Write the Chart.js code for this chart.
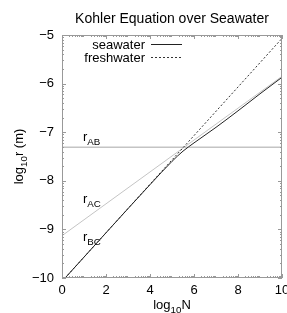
<!DOCTYPE html>
<html>
<head>
<meta charset="utf-8">
<script src="https://cdn.jsdelivr.net/npm/chart.js@4"></script>
<style>
  html, body { margin: 0; padding: 0; background: #fff; }
  #chart { display: block; }
</style>
</head>
<body>
<canvas id="chart" width="287" height="313"></canvas>
<script>
// values
const seaN = [0.14, 2, 4, 5, 5.5, 6, 6.5, 7, 8, 9, 10];
const seaR = [-10, -9.07, -8.08, -7.6, -7.39, -7.22, -7.06, -6.9, -6.56, -6.21, -5.87];
const freshN = [0.14, 10];
const freshR = [-10, -5.07];
const acN = [0, 10];
const acR = [-9.13, -5.85];
const abN = [0, 10];
const abR = [-7.31, -7.31];
const xTicks = [0, 2, 4, 6, 8, 10];
const yTicks = [-10, -9, -8, -7, -6, -5];

const FONT = '"Liberation Sans", Arial, sans-serif';
const TITLE = 'Kohler Equation over Seawater';

function pts(xs, ys) {
    return xs.map((x, i) => ({ x: x, y: ys[i] }));
}

// text pieces: [string, isSubscript]
function drawParts(ctx, parts, x, y, size, align) {
    let w = 0;
    parts.forEach(p => {
        ctx.font = (p[1] ? size * 0.75 : size) + 'px ' + FONT;
        w += ctx.measureText(p[0]).width;
    });
    let cx = align === 'center' ? x - w / 2 : x;
    parts.forEach(p => {
        ctx.font = (p[1] ? size * 0.75 : size) + 'px ' + FONT;
        ctx.fillText(p[0], cx, p[1] ? y + size * 0.3 : y);
        cx += ctx.measureText(p[0]).width;
    });
}

const lineLabels = [
    { parts: [['r'], ['AB', 1]], n: 0.95, r: -7.18 },
    { parts: [['r'], ['AC', 1]], n: 0.95, r: -8.46 },
    { parts: [['r'], ['BC', 1]], n: 0.95, r: -9.24 }
];

const decor = {
    id: 'decor',
    afterDraw(chart) {
        const ctx = chart.ctx;
        const a = chart.chartArea;
        const xs = chart.scales.x, ys = chart.scales.y;
        ctx.save();
        // frame
        ctx.strokeStyle = '#999';
        ctx.lineWidth = 1;
        ctx.strokeRect(a.left + 0.5, a.top + 0.5, a.right - a.left - 1, a.bottom - a.top - 1);
        // minor ticks (log-spaced inside each unit) on all four sides
        ctx.beginPath();
        for (let i = xs.min; i < xs.max; i++) {
            for (let k = 2; k <= 9; k++) {
                const px = Math.round(xs.getPixelForValue(i + Math.log10(k))) + 0.5;
                ctx.moveTo(px, a.bottom); ctx.lineTo(px, a.bottom - 2);
                ctx.moveTo(px, a.top); ctx.lineTo(px, a.top + 2);
            }
        }
        for (let i = ys.min; i < ys.max; i++) {
            for (let k = 2; k <= 9; k++) {
                const py = Math.round(ys.getPixelForValue(i + Math.log10(k))) + 0.5;
                ctx.moveTo(a.left, py); ctx.lineTo(a.left + 2, py);
                ctx.moveTo(a.right, py); ctx.lineTo(a.right - 2, py);
            }
        }
        xTicks.forEach(v => {
            const px = Math.round(xs.getPixelForValue(v)) + 0.5;
            ctx.moveTo(px, a.bottom); ctx.lineTo(px, a.bottom - 4);
            ctx.moveTo(px, a.top); ctx.lineTo(px, a.top + 4);
        });
        yTicks.forEach(v => {
            const py = Math.round(ys.getPixelForValue(v)) + 0.5;
            ctx.moveTo(a.left, py); ctx.lineTo(a.left + 4, py);
            ctx.moveTo(a.right, py); ctx.lineTo(a.right - 4, py);
        });
        ctx.stroke();

        ctx.fillStyle = '#000';
        ctx.textBaseline = 'alphabetic';
        // title, centred over the plot area
        ctx.textAlign = 'left';
        drawParts(ctx, [[TITLE]], (a.left + a.right) / 2, 23, 14, 'center');
        // line labels
        lineLabels.forEach(l => {
            drawParts(ctx, l.parts, xs.getPixelForValue(l.n), ys.getPixelForValue(l.r), 13, 'left');
        });
        // axis titles
        drawParts(ctx, [['log'], ['10', 1], ['N']], (a.left + a.right) / 2, 309, 13, 'center');
        ctx.save();
        ctx.translate(23, (a.top + a.bottom) / 2);
        ctx.rotate(-Math.PI / 2);
        drawParts(ctx, [['log'], ['10', 1], ['r (m)']], 0, 0, 13, 'center');
        ctx.restore();

        // legend: text right-aligned, sample on the right
        const items = chart.data.datasets.filter(d => d.inLegend);
        items.forEach((d, i) => {
            const y = 44 + i * 13;
            ctx.font = '13px ' + FONT;
            ctx.textAlign = 'right';
            ctx.textBaseline = 'middle';
            ctx.fillStyle = '#000';
            ctx.fillText(d.label, 145, y + 1);
            ctx.beginPath();
            ctx.strokeStyle = d.borderColor;
            ctx.lineWidth = d.borderWidth;
            ctx.setLineDash(d.borderDash || []);
            ctx.moveTo(151, y + 0.5); ctx.lineTo(182, y + 0.5);
            ctx.stroke();
            ctx.setLineDash([]);
        });
        ctx.restore();
    }
};

new Chart(document.getElementById('chart'), {
    type: 'scatter',
    data: {
        datasets: [
            { label: 'seawater', data: pts(seaN, seaR), showLine: true, cubicInterpolationMode: 'monotone', borderColor: '#222', borderWidth: 1, pointRadius: 0, order: 1, inLegend: true },
            { label: 'freshwater', data: pts(freshN, freshR), showLine: true, borderColor: '#333', borderWidth: 1, borderDash: [2, 2], pointRadius: 0, order: 2, inLegend: true },
            { label: 'rAC', data: pts(acN, acR), showLine: true, borderColor: '#c4c4c4', borderWidth: 1, pointRadius: 0, order: 3 },
            { label: 'rAB', data: pts(abN, abR), showLine: true, borderColor: '#c4c4c4', borderWidth: 1.5, pointRadius: 0, order: 4 }
        ]
    },
    options: {
        responsive: false,
        animation: false,
        events: [],
        layout: { padding: { left: 0, right: 5, top: 35, bottom: 0 } },
        plugins: {
            legend: { display: false },
            tooltip: { enabled: false },
            title: { display: false }
        },
        scales: {
            x: {
                type: 'linear', min: 0, max: 10,
                afterBuildTicks: s => { s.ticks = xTicks.map(v => ({ value: v })); },
                afterFit: s => { s.height = 35; s.paddingLeft = 0; s.paddingRight = 0; },
                grid: { display: false, drawTicks: false },
                border: { display: false },
                ticks: { color: '#000', padding: 5, font: { family: FONT, size: 13 }, maxRotation: 0 }
            },
            y: {
                type: 'linear', min: -10, max: -5,
                afterBuildTicks: s => { s.ticks = yTicks.map(v => ({ value: v })); },
                afterFit: s => { s.width = 62; s.paddingTop = 0; s.paddingBottom = 0; },
                grid: { display: false, drawTicks: false },
                border: { display: false },
                ticks: {
                    color: '#000', padding: 8, font: { family: FONT, size: 13 },
                    callback: v => String(v).replace('-', '\u2212')
                }
            }
        }
    },
    plugins: [decor]
});
</script>
</body>
</html>
